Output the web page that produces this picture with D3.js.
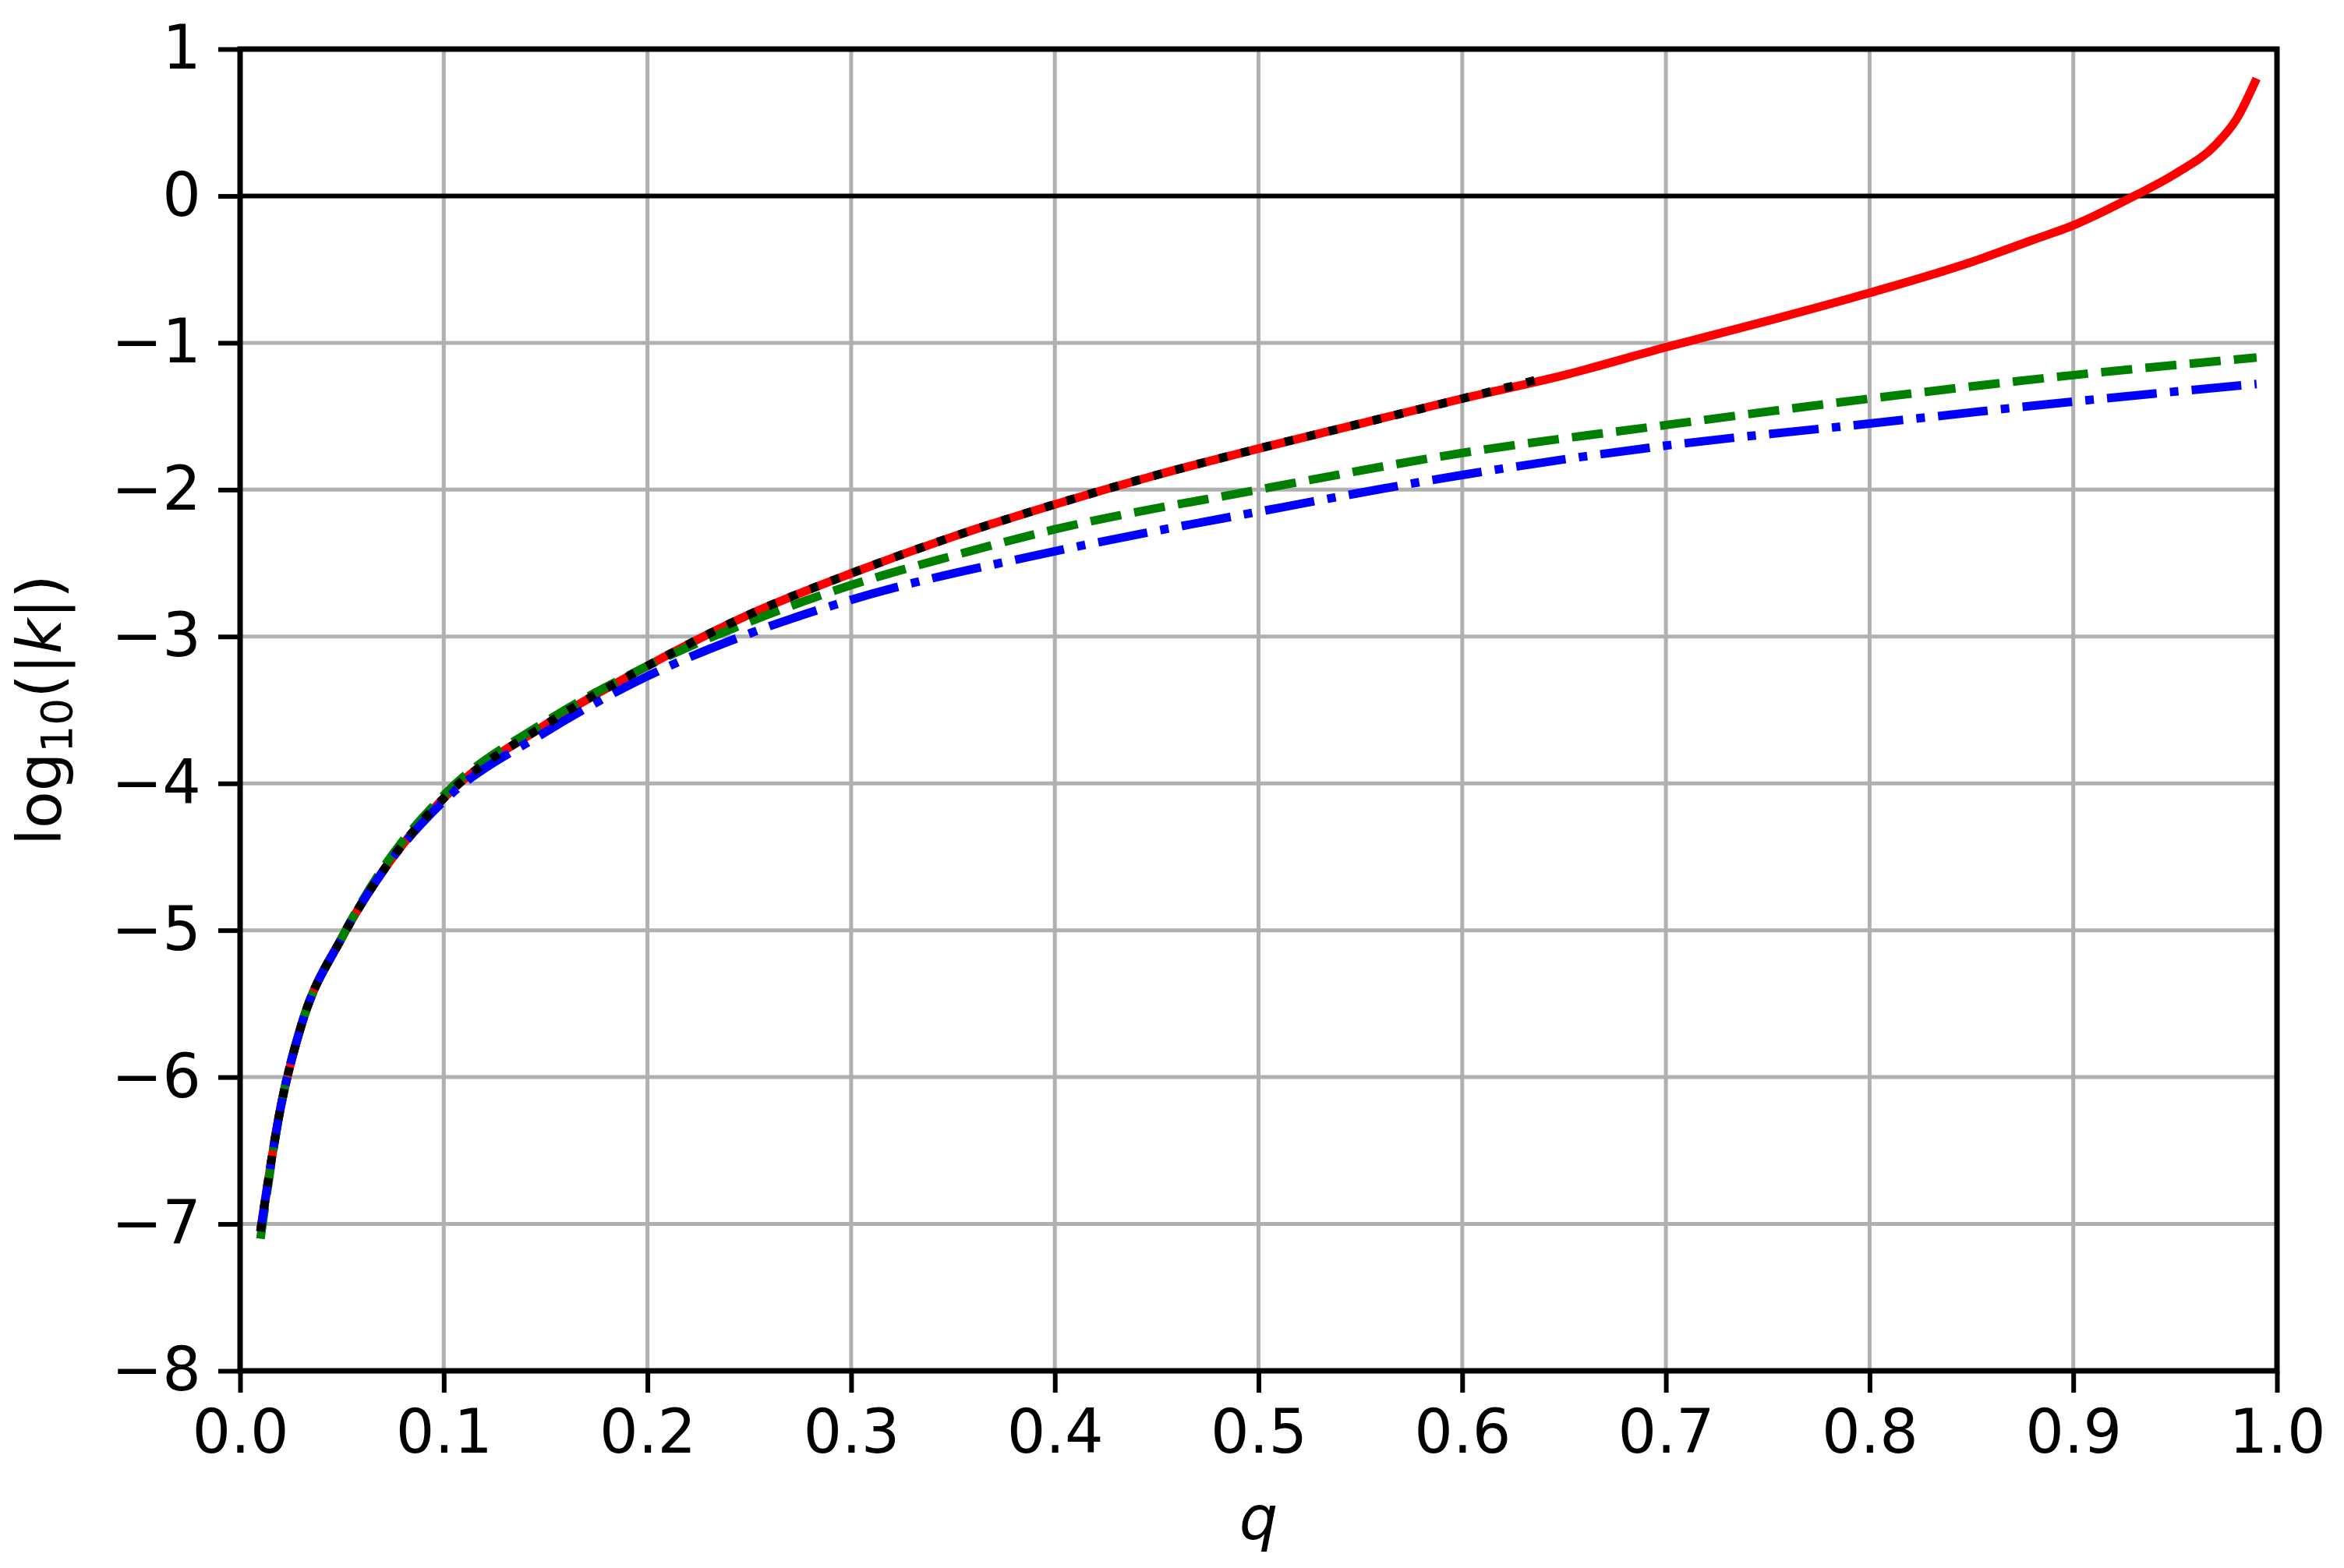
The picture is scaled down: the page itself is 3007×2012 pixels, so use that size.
<!DOCTYPE html><html><head><meta charset="utf-8"><script src="https://d3js.org/d3.v7.min.js"></script>
<style>body{margin:0;background:#fff}text{font-family:"DejaVu Sans";}</style></head><body><svg id="c" width="3007" height="2012"></svg>
<script>
const qRed=[0.01,0.02,0.03,0.05,0.07,0.1,0.15,0.2,0.25,0.3,0.35,0.4,0.45,0.5,0.55,0.6,0.65,0.7,0.75,0.8,0.85,0.88,0.9,0.93,0.95,0.97,0.98,0.99];
const kRed=[-7.05,-6.2,-5.65,-5.05,-4.6,-4.1,-3.6,-3.2,-2.85,-2.57,-2.32,-2.1,-1.9,-1.72,-1.55,-1.38,-1.22,-1.03,-0.85,-0.66,-0.45,-0.3,-0.2,0.0,0.15,0.35,0.52,0.8];
const qGreen=[0.01,0.02,0.03,0.05,0.07,0.1,0.15,0.2,0.25,0.3,0.35,0.4,0.5,0.6,0.7,0.8,0.9,0.99];
const kGreen=[-7.1,-6.2,-5.65,-5.05,-4.58,-4.08,-3.58,-3.2,-2.9,-2.65,-2.45,-2.27,-2.0,-1.75,-1.56,-1.38,-1.22,-1.1];
const qBlue=[0.01,0.02,0.03,0.05,0.07,0.1,0.15,0.2,0.25,0.3,0.4,0.5,0.6,0.7,0.8,0.9,0.99];
const kBlue=[-7.05,-6.2,-5.65,-5.05,-4.6,-4.12,-3.65,-3.27,-2.98,-2.75,-2.42,-2.15,-1.9,-1.7,-1.55,-1.4,-1.28];
const qBlack=[0.01,0.02,0.03,0.05,0.07,0.1,0.15,0.2,0.25,0.3,0.35,0.4,0.45,0.5,0.55,0.6,0.64];
const kBlack=[-7.05,-6.2,-5.65,-5.05,-4.6,-4.1,-3.6,-3.2,-2.85,-2.57,-2.32,-2.1,-1.9,-1.72,-1.55,-1.38,-1.24];
const xTicks=[0,0.1,0.2,0.3,0.4,0.5,0.6,0.7,0.8,0.9,1.0];
const yTicks=[1,0,-1,-2,-3,-4,-5,-6,-7,-8];
const L=308,R=2921,T=63,B=1759;
const svg=d3.select("#c");
const x=d3.scaleLinear().domain([0,1]).range([L,R]);
const y=d3.scaleLinear().domain([-8,1]).range([B,T]);
const g=svg.append("g");
g.selectAll(".gx").data(xTicks).join("line").attr("x1",d=>x(d)).attr("x2",d=>x(d)).attr("y1",T).attr("y2",B).attr("stroke","#b0b0b0").attr("stroke-width",5);
g.selectAll(".gy").data(yTicks).join("line").attr("y1",d=>y(d)).attr("y2",d=>y(d)).attr("x1",L).attr("x2",R).attr("stroke","#b0b0b0").attr("stroke-width",5);
svg.append("line").attr("x1",L).attr("x2",R).attr("y1",y(0)).attr("y2",y(0)).attr("stroke","#000").attr("stroke-width",6);
const ln=d3.line().x(d=>x(d[0])).y(d=>y(d[1])).curve(d3.curveMonotoneX);
svg.append("clipPath").attr("id","cp").append("rect").attr("x",L).attr("y",T).attr("width",R-L).attr("height",B-T);
function draw(qs,ks,col,dash){svg.append("path").attr("clip-path","url(#cp)").attr("d",ln(qs.map((q,i)=>[q,ks[i]]))).attr("fill","none").attr("stroke",col).attr("stroke-width",11).attr("stroke-dasharray",dash);}
draw(qRed,kRed,"#ff0000",null);
draw(qGreen,kGreen,"#008000","40,17");
draw(qBlue,kBlue,"#0000ff","64,17,11,17");
draw(qBlack,kBlack,"#000","11,18");
const xa=svg.append("g").attr("transform",`translate(0,${B})`).call(d3.axisBottom(x).tickValues(xTicks).tickFormat(d3.format(".1f")).tickSize(28).tickPadding(22));
const ya=svg.append("g").attr("transform",`translate(${L},0)`).call(d3.axisLeft(y).tickValues(yTicks).tickFormat(d=>d<0?"\u2212"+(-d):d).tickSize(28).tickPadding(22));
[xa,ya].forEach(a=>{a.select(".domain").remove();a.selectAll("line").attr("stroke-width",6);a.selectAll("text").style("font-size","78px").attr("font-family","DejaVu Sans");});
svg.append("rect").attr("x",L).attr("y",T).attr("width",R-L).attr("height",B-T).attr("fill","none").attr("stroke","#000").attr("stroke-width",7);
svg.append("text").attr("x",(L+R)/2).attr("y",1975).attr("text-anchor","middle").style("font-size","78px").style("font-style","italic").text("q");
const yl=svg.append("text").attr("transform",`translate(78,${(T+B)/2}) rotate(-90)`).attr("text-anchor","middle").style("font-size","78px");
yl.append("tspan").text("log");yl.append("tspan").attr("dy",14).style("font-size","55px").text("10");yl.append("tspan").attr("dy",-14).text("(|");yl.append("tspan").style("font-style","italic").text("k");yl.append("tspan").text("|)");
</script></body></html>
